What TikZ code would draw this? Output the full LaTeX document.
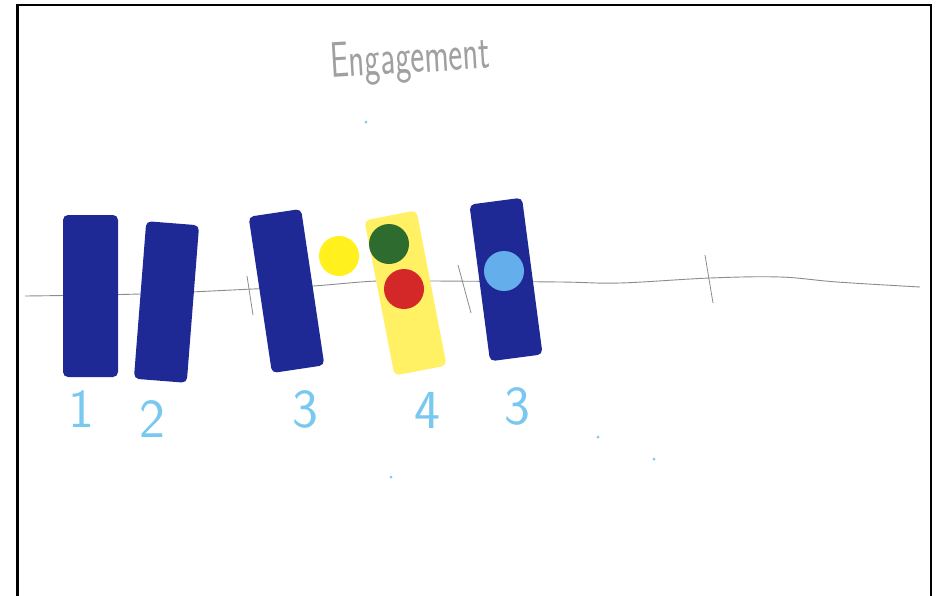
\documentclass[tikz,border=0pt]{standalone}
\usepackage{fontspec}
\usepackage{graphicx}
\definecolor{navy}{RGB}{31,41,150}
\definecolor{paleyel}{RGB}{255,240,100}
\definecolor{brightyel}{RGB}{255,240,30}
\definecolor{dgreen}{RGB}{46,107,46}
\definecolor{dred}{RGB}{212,40,40}
\definecolor{lblue}{RGB}{100,175,235}
\definecolor{digitblue}{RGB}{120,200,240}
\definecolor{pencil}{RGB}{140,140,140}
\definecolor{lightpencil}{RGB}{160,160,160}
\tikzset{
  card/.style={rectangle, rounded corners=5pt, minimum width=53pt, minimum height=158pt, inner sep=0pt, draw=none},
  bluecard/.style={card, fill=navy},
  yelcard/.style={card, fill=paleyel},
  dot/.style={circle, minimum size=40pt, inner sep=0pt, draw=none},
  digit/.style={text=digitblue, font=\sffamily\fontsize{55}{55}\selectfont, inner sep=0pt},
  tickmark/.style={draw=pencil, line width=0.8pt},
  speck/.style={circle, fill=digitblue, minimum size=3pt, inner sep=0pt}
}
\begin{document}
\begin{tikzpicture}[x=1pt,y=-1pt]
\useasboundingbox (0,0) rectangle (938,595);
\fill[white] (0,0) rectangle (938,595);
% frame
\draw[black, line width=2.5pt] (17.5,600) -- (17.5,5) -- (931,5) -- (931,600);
% title
\node[text=lightpencil, font=\sffamily\fontsize{50}{50}\selectfont, rotate=3.5, inner sep=0pt, anchor=base] (title) at (411,73) {\scalebox{0.66}[1]{Engagement}};
% axis line
\draw[pencil, line width=0.9pt] plot[smooth, tension=0.6] coordinates {(25,296) (140,294) (253,289) (313,286) (377,281) (433,281) (560,282) (620,283) (710,278) (780,277) (837,282) (920,287)};
% tick marks
\coordinate (t1a) at (247,276); \coordinate (t1b) at (253,315);
\coordinate (t2a) at (458,265); \coordinate (t2b) at (471,313);
\coordinate (t3a) at (705,255); \coordinate (t3b) at (713,303);
\draw[tickmark] (t1a) -- (t1b);
\draw[tickmark] (t2a) -- (t2b);
\draw[tickmark] (t3a) -- (t3b);
% cards
\node[bluecard, minimum width=55pt, minimum height=162pt] (c1) at (90.5,296) {};
\node[bluecard, rotate=-4.5] (c2) at (166.5,302) {};
\node[bluecard, rotate=8.5] (c3) at (286.5,291) {};
\node[yelcard, rotate=11] (c4) at (405.5,293) {};
\node[bluecard, rotate=7.5] (c5) at (506,279.5) {};
% circles
\node[dot, fill=brightyel] (yc) at (339,256) {};
\node[dot, fill=dgreen] (gc) at (389,244) {};
\node[dot, fill=dred] (rc) at (404,289) {};
\node[dot, fill=lblue] (bc) at (504,271) {};
% digits
\node[digit] (d1) at (81,409) {1};
\node[digit] (d2) at (152,419) {2};
\node[digit] (d3) at (305,409) {3};
\node[digit] (d4) at (427,410) {4};
\node[digit] (d5) at (517,406) {3};
% specks
\node[speck] (s1) at (366,122) {};
\node[speck] (s2) at (598,437) {};
\node[speck] (s3) at (654,459) {};
\node[speck] (s4) at (391,477) {};
\end{tikzpicture}
\end{document}
